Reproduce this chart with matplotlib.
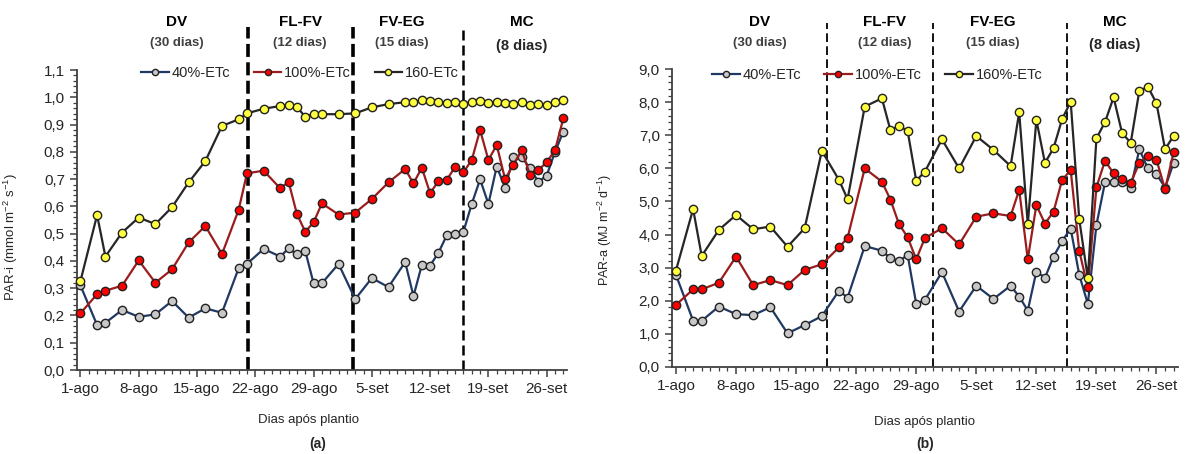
import numpy as np
import matplotlib
matplotlib.use("Agg")
import matplotlib.pyplot as plt
from matplotlib.ticker import FixedLocator, MultipleLocator, FuncFormatter

plt.rcParams['font.family'] = ['Liberation Sans', 'DejaVu Sans']
plt.rcParams['mathtext.fontset'] = 'custom'
plt.rcParams['mathtext.rm'] = 'Liberation Sans'
plt.rcParams['mathtext.default'] = 'regular'

# -------------------------- Data --------------------------
# days after 1-ago
days = [0, 2, 3, 5, 7, 9, 11, 13, 15, 17, 19, 20, 22, 24, 25, 26, 27, 28, 29,
        31, 33, 35, 37, 39, 40, 41, 42, 43, 44, 45, 46, 47, 48, 49, 50, 51, 52,
        53, 54, 55, 56, 57, 58]

tick_days = [0, 7, 14, 21, 28, 35, 42, 49, 56]
tick_labels = ["1-ago", "8-ago", "15-ago", "22-ago", "29-ago",
               "5-set", "12-set", "19-set", "26-set"]

# PAR-i (mmol m-2 s-1)
pari_40 = [0.31, 0.165, 0.173, 0.22, 0.195, 0.204, 0.253, 0.192, 0.226, 0.21,
           0.373, 0.389, 0.444, 0.416, 0.446, 0.424, 0.437, 0.318, 0.318,
           0.389, 0.26, 0.337, 0.304, 0.396, 0.271, 0.385, 0.383, 0.43, 0.494,
           0.497, 0.507, 0.609, 0.699, 0.609, 0.746, 0.669, 0.78, 0.78, 0.74,
           0.69, 0.713, 0.80, 0.874]
pari_100 = [0.208, 0.278, 0.291, 0.309, 0.402, 0.32, 0.369, 0.468, 0.528,
            0.425, 0.587, 0.721, 0.731, 0.666, 0.69, 0.572, 0.507, 0.541,
            0.611, 0.57, 0.577, 0.627, 0.688, 0.737, 0.684, 0.742, 0.648,
            0.693, 0.697, 0.745, 0.725, 0.77, 0.88, 0.77, 0.825, 0.70, 0.752,
            0.807, 0.715, 0.733, 0.762, 0.806, 0.923]
pari_160 = [0.326, 0.568, 0.416, 0.504, 0.559, 0.535, 0.597, 0.688, 0.766,
            0.895, 0.919, 0.941, 0.958, 0.968, 0.972, 0.964, 0.929, 0.938,
            0.938, 0.938, 0.941, 0.963, 0.975, 0.982, 0.982, 0.99, 0.988,
            0.984, 0.978, 0.984, 0.976, 0.984, 0.988, 0.98, 0.984, 0.978,
            0.974, 0.984, 0.972, 0.974, 0.972, 0.982, 0.99]

# PAR-a (MJ m-2 d-1)
para_40 = [2.78, 1.39, 1.39, 1.82, 1.59, 1.56, 1.80, 1.01, 1.26, 1.53, 2.30,
           2.09, 3.65, 3.51, 3.28, 3.20, 3.38, 1.90, 2.02, 2.86, 1.67, 2.45,
           2.05, 2.45, 2.12, 1.70, 2.88, 2.69, 3.33, 3.80, 4.18, 2.78, 1.90,
           4.29, 5.58, 5.58, 5.60, 5.40, 6.58, 6.00, 5.83, 5.42, 6.17]
para_100 = [1.87, 2.34, 2.34, 2.54, 3.33, 2.47, 2.62, 2.47, 2.93, 3.10, 3.61,
            3.90, 6.00, 5.60, 5.05, 4.31, 3.92, 3.25, 3.89, 4.19, 3.70, 4.54,
            4.64, 4.56, 5.35, 3.25, 4.89, 4.33, 4.69, 5.65, 5.95, 3.50, 2.40,
            5.43, 6.23, 5.85, 5.67, 5.57, 6.16, 6.38, 6.26, 5.37, 6.49]
para_160 = [2.91, 4.77, 3.35, 4.14, 4.59, 4.16, 4.24, 3.63, 4.19, 6.53, 5.65,
            5.07, 7.87, 8.12, 7.15, 7.29, 7.13, 5.63, 5.90, 6.88, 6.00, 6.98,
            6.56, 6.07, 7.70, 4.31, 7.47, 6.17, 6.61, 7.49, 8.02, 4.46, 2.67,
            6.91, 7.40, 8.15, 7.06, 6.78, 8.35, 8.47, 7.97, 6.58, 6.99]

phases = ["DV", "FL-FV", "FV-EG", "MC"]
phase_days = ["(30 dias)", "(12 dias)", "(15 dias)", "(8 dias)"]

# -------------------------- Style --------------------------
TXT = "#262626"
styles = [
    dict(color="#1f3864", mfc="#c8c8c8"),   # 40%
    dict(color="#9b1c1c", mfc="#ff0000"),   # 100%
    dict(color="#262626", mfc="#ffff40"),   # 160%
]


def comma(v, pos):
    return f"{v:.1f}".replace(".", ",")


def setup_axis(ax, ymax, ymajor, yminor, xlim):
    ax.set_xlim(*xlim)
    ax.set_ylim(0, ymax)
    for s in ["top", "right"]:
        ax.spines[s].set_visible(False)
    for s in ["left", "bottom"]:
        ax.spines[s].set_linewidth(1.3)
        ax.spines[s].set_color("#404040")
    ax.xaxis.set_major_locator(FixedLocator(tick_days))
    ax.set_xticklabels(tick_labels)
    ax.xaxis.set_minor_locator(MultipleLocator(1))
    ax.yaxis.set_major_locator(MultipleLocator(ymajor))
    ax.yaxis.set_minor_locator(MultipleLocator(yminor))
    ax.yaxis.set_major_formatter(FuncFormatter(comma))
    ax.tick_params(which="major", direction="out", length=5, width=1.1,
                   color="#404040", labelsize=11, labelcolor=TXT)
    ax.tick_params(which="minor", direction="out", length=3, width=0.9,
                   color="#404040")


def draw_series(ax, ys, names):
    handles = []
    for y, st, name in zip(ys, styles, names):
        h, = ax.plot(days, y, "-o", color=st["color"], lw=1.6, ms=6,
                     mfc=st["mfc"], mec="#222222", mew=1.0, label=name,
                     clip_on=False, zorder=3)
        handles.append(h)
    return handles


fig = plt.figure(figsize=(11.89, 4.54), dpi=100)
ax1 = fig.add_axes([0.0645, 0.185, 0.4121, 0.6608])
ax2 = fig.add_axes([0.5649, 0.1923, 0.4258, 0.6551])

# ---- panel (a) ----
setup_axis(ax1, 1.1, 0.1, 0.02, (-0.45, 58.4))
draw_series(ax1, [pari_40, pari_100, pari_160], ["40%-ETc", "100%-ETc", "160-ETc"])
ax1.set_ylabel("PAR-i (mmol m$^{-2}$ s$^{-1}$)", fontsize=9.5, color=TXT)
ax1.yaxis.set_label_coords(-0.115, 0.443)
for xb, lw, dash in [(20.1, 2.6, (3.6, 1.5)), (32.7, 2.6, (3.6, 1.5)),
                     (45.9, 1.8, (4.0, 2.0))]:
    ax1.axvline(xb, ymin=0, ymax=1.143, color="black", lw=lw,
                dashes=dash, clip_on=False, zorder=2)
ax1.legend(loc="center", bbox_to_anchor=(0.456, 0.99), ncol=3, frameon=False,
           fontsize=10.5, handlelength=1.9, handletextpad=0.2,
           columnspacing=1.6, markerscale=0.75, labelcolor=TXT)
for xp, name, sub in zip([11.6, 26.4, 38.6, 53.0], phases, phase_days):
    ax1.text(xp, 1.16, name, transform=ax1.get_xaxis_transform(),
             ha="center", va="center", fontsize=11, fontweight="bold",
             color="black")
    big = sub == "(8 dias)"
    ax1.text(xp, 1.09 if not big else 1.08, sub,
             transform=ax1.get_xaxis_transform(), ha="center", va="center",
             fontsize=10.5 if big else 9.5, fontweight="bold",
             color="#262626" if big else "#404040")

# ---- panel (b) ----
setup_axis(ax2, 9.0, 1.0, 0.2, (-0.5, 58.5))
draw_series(ax2, [para_40, para_100, para_160], ["40%-ETc", "100%-ETc", "160%-ETc"])
ax2.set_ylabel("PAR-a (MJ m$^{-2}$ d$^{-1}$)", fontsize=9, color=TXT)
ax2.yaxis.set_label_coords(-0.114, 0.46)
for xb in [17.55, 29.9, 45.6]:
    ax2.axvline(xb, ymin=0, ymax=1.156, color="black", lw=1.3,
                dashes=(4.8, 2.4), clip_on=False, zorder=2)
ax2.legend(loc="center", bbox_to_anchor=(0.406, 0.98), ncol=3, frameon=False,
           fontsize=10.5, handlelength=1.9, handletextpad=0.2,
           columnspacing=1.6, markerscale=0.75, labelcolor=TXT)
for xp, name, sub in zip([9.8, 24.3, 36.9, 51.1], phases, phase_days):
    ax2.text(xp, 1.16, name, transform=ax2.get_xaxis_transform(),
             ha="center", va="center", fontsize=11, fontweight="bold",
             color="black")
    big = sub == "(8 dias)"
    ax2.text(xp, 1.09 if not big else 1.08, sub,
             transform=ax2.get_xaxis_transform(), ha="center", va="center",
             fontsize=10.5 if big else 9.5, fontweight="bold",
             color="#262626" if big else "#404040")

# axis titles and panel tags
W, H = 1189, 454
fig.text(309 / W, 1 - 420 / H, "Dias após plantio", ha="center", va="center",
         fontsize=9.5, color=TXT)
fig.text(925 / W, 1 - 422 / H, "Dias após plantio", ha="center", va="center",
         fontsize=9.5, color=TXT)
fig.text(318 / W, 1 - 444 / H, "(a)", ha="center", va="center",
         fontsize=10, fontweight="bold", color=TXT)
fig.text(925 / W, 1 - 444 / H, "(b)", ha="center", va="center",
         fontsize=10, fontweight="bold", color=TXT)

fig.savefig("out.png", dpi=100)
